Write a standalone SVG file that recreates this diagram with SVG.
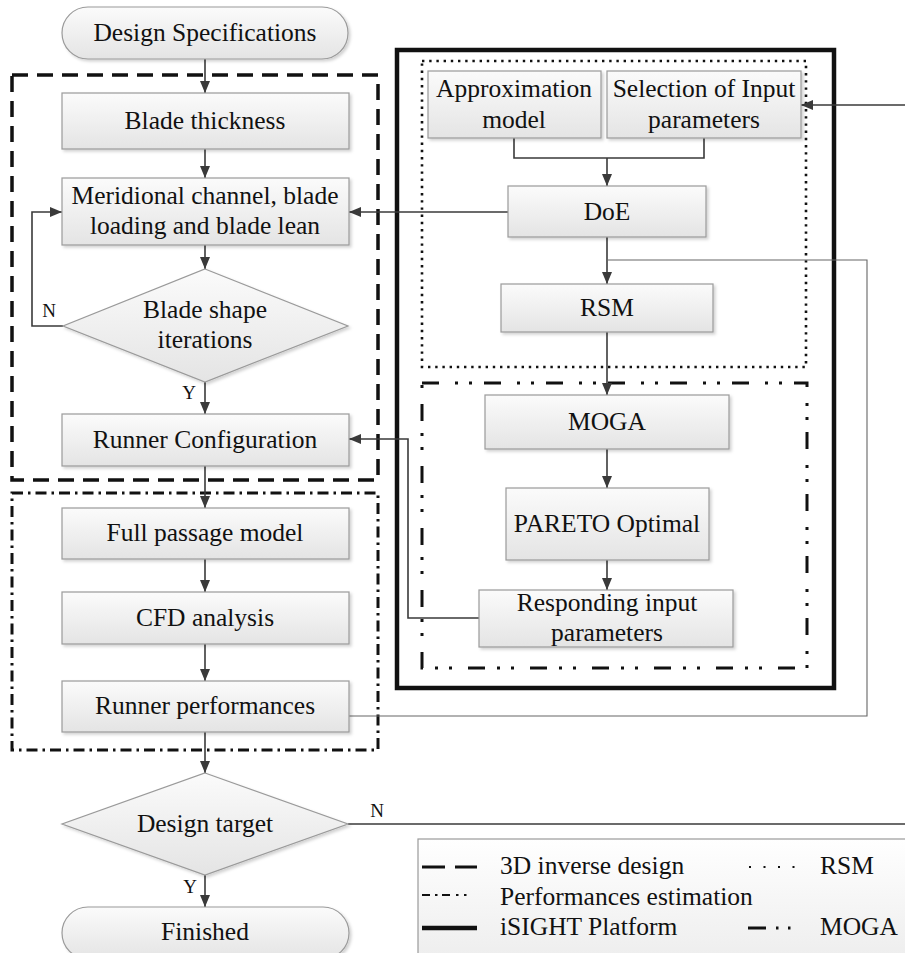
<svg xmlns="http://www.w3.org/2000/svg" width="905" height="953" viewBox="0 0 905 953">
  <defs>
    <linearGradient id="boxFill" x1="0" y1="0" x2="0" y2="1">
      <stop offset="0" stop-color="#fbfbfb"/>
      <stop offset="1" stop-color="#e4e4e4"/>
    </linearGradient>
    <linearGradient id="legendFill" x1="0" y1="0" x2="0" y2="1">
      <stop offset="0" stop-color="#ffffff"/>
      <stop offset="1" stop-color="#ececec"/>
    </linearGradient>
    <filter id="shadow" x="-5%" y="-5%" width="115%" height="125%">
      <feDropShadow dx="2" dy="2" stdDeviation="1.5" flood-color="#000" flood-opacity="0.18"/>
    </filter>
    <marker id="arrow" viewBox="0 0 12 10" refX="12" refY="5" markerWidth="12" markerHeight="10" markerUnits="userSpaceOnUse" orient="auto">
      <path d="M0,0 L12,5 L0,10 Z" fill="#3a3a3a"/>
    </marker>
  </defs>
  <style>
    .box { fill: url(#boxFill); stroke: #9a9a9a; stroke-width: 1.2; filter: url(#shadow); }
    .t { font-family: "Liberation Serif", "Times New Roman", serif; font-size: 25.5px; fill: #111; text-anchor: middle; }
    .lab { font-family: "Liberation Serif", "Times New Roman", serif; font-size: 19px; fill: #111; text-anchor: middle; }
    .lt { font-family: "Liberation Serif", "Times New Roman", serif; font-size: 25.5px; fill: #111; }
    .flow { fill: none; stroke: #3a3a3a; stroke-width: 1.6; }
    .thin { fill: none; stroke: #666; stroke-width: 1.1; }
    .frame { fill: none; stroke: #111; }
  </style>

  <rect width="905" height="953" fill="#ffffff"/>

  <!-- grouping frames -->
  <g id="frames">
    <rect class="frame" x="12" y="75" width="366" height="405" stroke-width="3.5" stroke-dasharray="16 9"/>
    <rect class="frame" x="12" y="493" width="366" height="257" stroke-width="3" stroke-dasharray="11 5 2.5 5"/>
    <rect class="frame" x="397" y="50" width="437" height="638" stroke-width="4.5"/>
    <rect class="frame" x="422" y="61" width="384" height="306" stroke-width="2.6" stroke-dasharray="2.4 4.8"/>
    <rect class="frame" x="422" y="383" width="385" height="285" stroke-width="3" stroke-dasharray="17 16 3 11 3 12"/>
  </g>

  <!-- connectors -->
  <g id="connectors">
    <line class="flow" x1="205" y1="59" x2="205" y2="93" marker-end="url(#arrow)"/>
    <line class="flow" x1="205" y1="149" x2="205" y2="178" marker-end="url(#arrow)"/>
    <line class="flow" x1="205" y1="245" x2="205" y2="269" marker-end="url(#arrow)"/>
    <polyline class="flow" points="63,326 32,326 32,212 62,212" marker-end="url(#arrow)"/>
    <line class="flow" x1="205" y1="382" x2="205" y2="414" marker-end="url(#arrow)"/>
    <line class="flow" x1="205" y1="466" x2="205" y2="508" marker-end="url(#arrow)"/>
    <line class="flow" x1="205" y1="559" x2="205" y2="592" marker-end="url(#arrow)"/>
    <line class="flow" x1="205" y1="644" x2="205" y2="681" marker-end="url(#arrow)"/>
    <line class="flow" x1="205" y1="732" x2="205" y2="773" marker-end="url(#arrow)"/>
    <line class="flow" x1="205" y1="875" x2="205" y2="907" marker-end="url(#arrow)"/>
    <line class="flow" x1="348" y1="824" x2="905" y2="824" stroke-width="2"/>
    <line class="flow" x1="905" y1="105" x2="801" y2="105" marker-end="url(#arrow)"/>
    <polyline class="flow" points="514,138 514,158 704,158 704,138"/>
    <line class="flow" x1="607" y1="158" x2="607" y2="186" marker-end="url(#arrow)"/>
    <line class="flow" x1="508" y1="212" x2="349" y2="212" marker-end="url(#arrow)"/>
    <line class="flow" x1="607" y1="237" x2="607" y2="284" marker-end="url(#arrow)"/>
    <polyline class="thin" points="607,260 867,260 867,716 349,716"/>
    <line class="flow" x1="607" y1="332" x2="607" y2="395" marker-end="url(#arrow)"/>
    <line class="flow" x1="607" y1="449" x2="607" y2="488" marker-end="url(#arrow)"/>
    <line class="flow" x1="607" y1="560" x2="607" y2="590" marker-end="url(#arrow)"/>
    <polyline class="flow" points="479,618 408,618 408,439 349,439" marker-end="url(#arrow)"/>
  </g>

  <!-- branch labels -->
  <g id="labels">
    <text class="lab" x="49" y="317">N</text>
    <text class="lab" x="189" y="399">Y</text>
    <text class="lab" x="377" y="817">N</text>
    <text class="lab" x="190" y="893">Y</text>
  </g>

  <!-- left column -->
  <g id="design-specifications">
    <rect class="box" x="62" y="7" width="286" height="52" rx="26"/>
    <text class="t" x="205" y="41">Design Specifications</text>
  </g>
  <g id="blade-thickness">
    <rect class="box" x="62" y="93" width="287" height="56"/>
    <text class="t" x="205" y="129">Blade thickness</text>
  </g>
  <g id="meridional-channel">
    <rect class="box" x="62" y="178" width="287" height="67"/>
    <text class="t" x="205" y="204">Meridional channel, blade</text>
    <text class="t" x="205" y="234">loading and blade lean</text>
  </g>
  <g id="blade-shape-iterations">
    <polygon class="box" points="205,269 348,326 205,382 63,326"/>
    <text class="t" x="205" y="318">Blade shape</text>
    <text class="t" x="205" y="348">iterations</text>
  </g>
  <g id="runner-configuration">
    <rect class="box" x="62" y="414" width="287" height="52"/>
    <text class="t" x="205" y="448">Runner Configuration</text>
  </g>
  <g id="full-passage-model">
    <rect class="box" x="62" y="508" width="287" height="51"/>
    <text class="t" x="205" y="541">Full passage model</text>
  </g>
  <g id="cfd-analysis">
    <rect class="box" x="62" y="592" width="287" height="52"/>
    <text class="t" x="205" y="626">CFD analysis</text>
  </g>
  <g id="runner-performances">
    <rect class="box" x="62" y="681" width="287" height="51"/>
    <text class="t" x="205" y="714">Runner performances</text>
  </g>
  <g id="design-target">
    <polygon class="box" points="205,773 348,824 205,875 62,824"/>
    <text class="t" x="205" y="832">Design target</text>
  </g>
  <g id="finished">
    <rect class="box" x="62" y="907" width="287" height="52" rx="26"/>
    <text class="t" x="205" y="940">Finished</text>
  </g>

  <!-- iSIGHT column -->
  <g id="approximation-model">
    <rect class="box" x="428" y="71" width="173" height="67"/>
    <text class="t" x="514" y="97">Approximation</text>
    <text class="t" x="514" y="128">model</text>
  </g>
  <g id="selection-input">
    <rect class="box" x="607" y="71" width="194" height="67"/>
    <text class="t" x="704" y="97">Selection of Input</text>
    <text class="t" x="704" y="128">parameters</text>
  </g>
  <g id="doe">
    <rect class="box" x="508" y="186" width="198" height="51"/>
    <text class="t" x="607" y="220">DoE</text>
  </g>
  <g id="rsm">
    <rect class="box" x="501" y="284" width="212" height="48"/>
    <text class="t" x="607" y="316">RSM</text>
  </g>
  <g id="moga">
    <rect class="box" x="485" y="395" width="244" height="54"/>
    <text class="t" x="607" y="430">MOGA</text>
  </g>
  <g id="pareto-optimal">
    <rect class="box" x="506" y="488" width="203" height="72"/>
    <text class="t" x="607" y="532">PARETO Optimal</text>
  </g>
  <g id="responding-input">
    <rect class="box" x="479" y="590" width="254" height="57"/>
    <text class="t" x="607" y="611">Responding input</text>
    <text class="t" x="607" y="641">parameters</text>
  </g>

  <!-- line style legend -->
  <g id="legend">
    <rect x="418" y="839" width="500" height="130" fill="url(#legendFill)" stroke="#9a9a9a" stroke-width="1.2"/>
    <line x1="422" y1="867" x2="477" y2="867" stroke="#111" stroke-width="3" stroke-dasharray="23 10"/>
    <line x1="749" y1="867" x2="795" y2="867" stroke="#111" stroke-width="2" stroke-dasharray="2 12.5"/>
    <path d="M422,895 h8 M435,895 h2.5 M442,895 h8 M456,895 h2.5 M464,895 h2.5" stroke="#111" stroke-width="2"/>
    <line x1="422" y1="928" x2="477" y2="928" stroke="#111" stroke-width="4.5"/>
    <path d="M748,928 h18 M776,928 h2.5 M788,928 h2.5" stroke="#111" stroke-width="3"/>
    <text class="lt" x="500" y="874">3D inverse design</text>
    <text class="lt" x="820" y="874">RSM</text>
    <text class="lt" x="500" y="905">Performances estimation</text>
    <text class="lt" x="500" y="935">iSIGHT Platform</text>
    <text class="lt" x="820" y="935">MOGA</text>
  </g>
</svg>
